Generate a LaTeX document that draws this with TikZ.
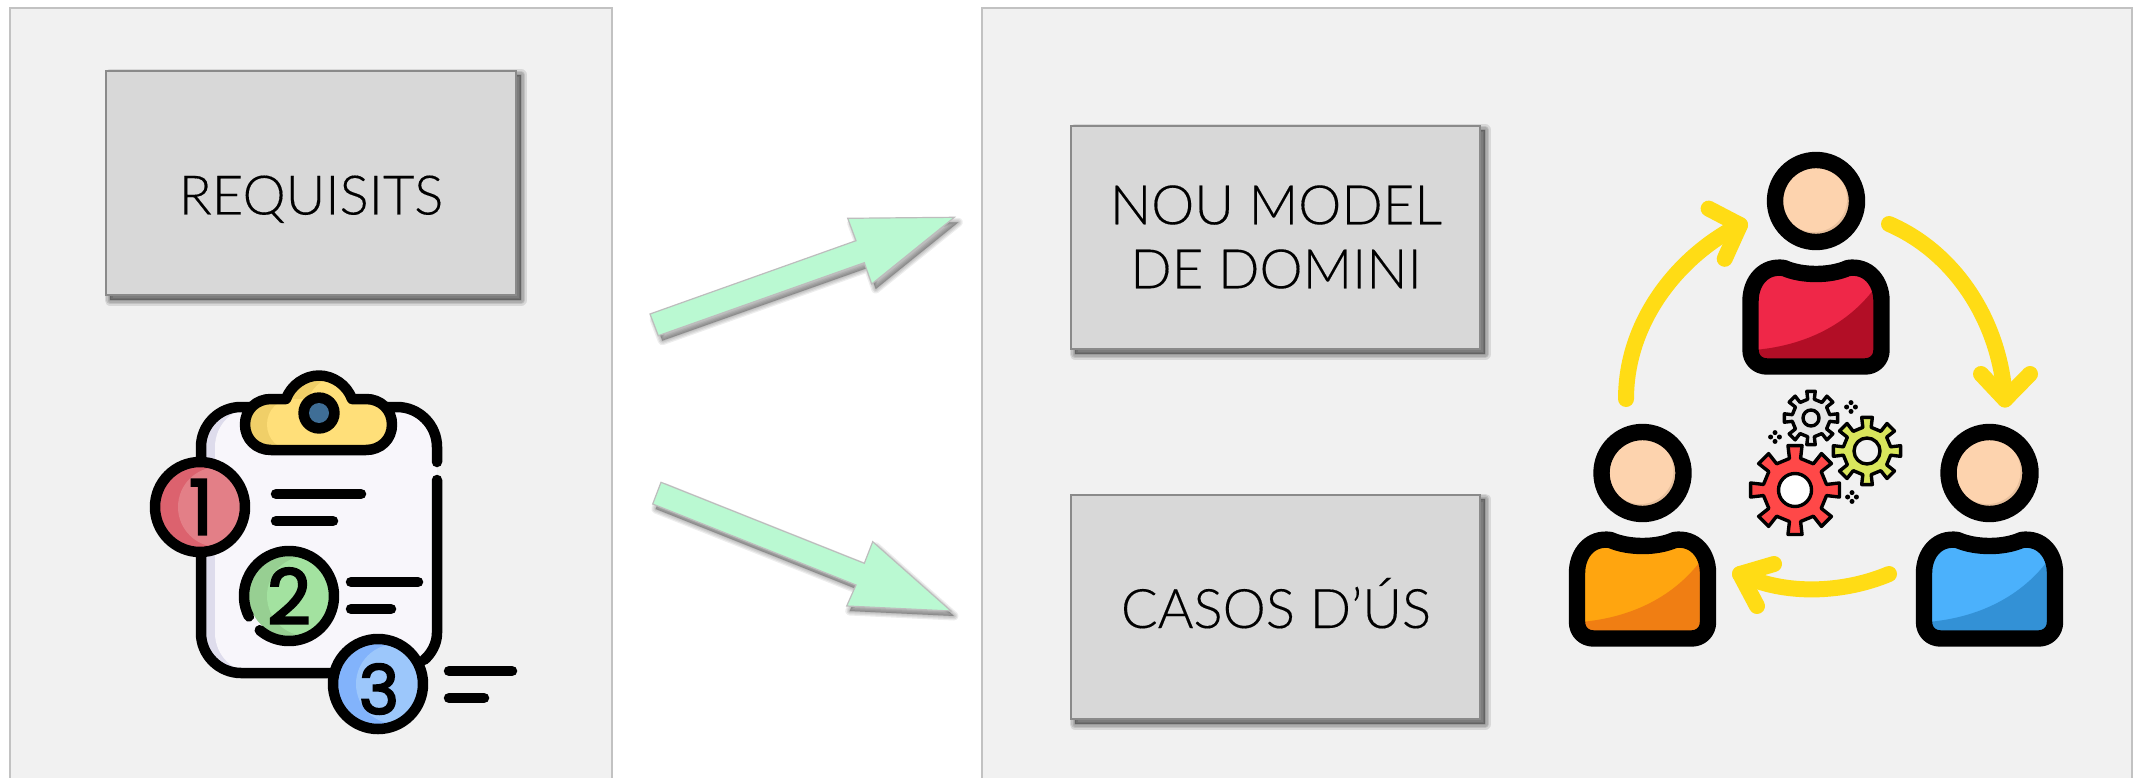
\documentclass[tikz,border=0pt]{standalone}
\usepackage{fontspec}
\setmainfont{Lato}[UprightFont=* Light,FakeBold=.2,AutoFakeBold=0]
\newfontfamily\labelfont{Lato}[UprightFont=* Light,UprightFeatures={FakeBold=.25}]
\newfontfamily\digitfont{Poppins}[FakeBold=3]
\usetikzlibrary{calc}
\definecolor{panelfill}{HTML}{F1F1F1}
\definecolor{panelline}{HTML}{C2C2C2}
\definecolor{boxfill}{HTML}{D8D8D8}
\definecolor{boxline}{HTML}{8A8A8A}
\definecolor{arrowgreen}{HTML}{BAF9D2}
\definecolor{arrowline}{HTML}{BDBDBD}
\definecolor{flowyellow}{HTML}{FFDC15}
\definecolor{skin}{HTML}{FDD3AE}
\definecolor{skindark}{HTML}{E7BF9C}
\tikzset{
  panel/.style={draw=panelline,fill=panelfill,line width=2.6pt},
  boxnode/.style={draw=boxline,fill=boxfill,line width=2pt,rectangle,inner sep=0pt,anchor=north west},
  boxlabel/.style={font=\labelfont\fontsize{54.5}{64}\selectfont,inner sep=0pt,text=black},
  blockarrow/.style={draw=arrowline,fill=arrowgreen,line width=1.2pt,line join=miter},
  flow/.style={draw=flowyellow,line width=16pt,line cap=round,line join=round},
  ink/.style={draw=black,line width=10.5pt,line cap=round,line join=round},
  gearline/.style={draw=black,line width=3.4pt,line join=round},
}
\newcommand{\softrect}[4]{%
  \foreach \w in {11,8,5,2}{\filldraw[black,opacity=.1,line width=\w pt,line join=round] (#1+4,#2+4) rectangle (#3+4,#4+4);}}
\newcommand{\badge}[4]{% x y main shade
  \begin{scope}
    \clip (#1,#2) circle[radius=40];
    \fill[#4] (#1,#2) circle[radius=40];
    \fill[#3] (#1+18,#2) circle[radius=40];
  \end{scope}}
\newcommand{\person}[4]{% x y main dark
  \begin{scope}[shift={(#1,#2)}]
    \def\bodyshape{(-32,67) .. controls (-14,75) and (14,75) .. (32,67)
      .. controls (52,64) and (65.5,80) .. (65.5,100) -- (65.5,149)
      .. controls (65.5,159) and (58,165.5) .. (49,165.5) -- (-49,165.5)
      .. controls (-58,165.5) and (-65.5,159) .. (-65.5,149) -- (-65.5,100)
      .. controls (-65.5,80) and (-52,64) .. (-32,67) -- cycle}
    \fill[#3] \bodyshape;
    \begin{scope}
      \clip \bodyshape;
      \fill[#4] (-70,149.5) .. controls (-15,147) and (30,125) .. (58,88) -- (70,70) -- (70,170) -- (-70,170) -- cycle;
    \end{scope}
    \draw[black,line width=16.4pt,line join=round] \bodyshape;
    \fill[skindark] (0,0) circle[radius=36];
    \fill[skin] (-2,-2) circle[radius=33];
    \draw[black,line width=16.4pt] (0,0) circle[radius=41];
  \end{scope}}
\newcommand{\gearicon}[5]{% x y R bodyradius fill
  \begin{scope}[shift={(#1,#2)}]
    \filldraw[gearline,fill=#5] (-9:#3) \foreach \a in {0,45,...,315}{
      -- (\a-9:#3) -- (\a+9:#3) -- (\a+10:#4) -- (\a+35:#4)} -- cycle;
  \end{scope}}
\newcommand{\gearhub}[4]{% x y radius fill
  \filldraw[gearline,fill=#4] (#1,#2) circle[radius=#3];}
\newcommand{\sparkle}[2]{%
  \foreach \dx/\dy in {4.4/0,-4.4/0,0/4.4,0/-4.4}{\fill[black] (#1+\dx,#2+\dy) circle[radius=2.5];}}
\begin{document}
\begin{tikzpicture}[x=1pt,y=-1pt]
\useasboundingbox (0,0) rectangle (2143,778);
\clip (0,0) rectangle (2143,778);
\fill[white] (0,0) rectangle (2143,778);
% panels
\draw[panel] (10,8) rectangle (612,800);
\draw[panel] (982,8) rectangle (2132,800);
% grey boxes
\softrect{106}{71}{517}{296}
\node[boxnode,minimum width=410pt,minimum height=224pt] (req) at (105,70) {};
\node[boxlabel,anchor=base] (reqlabel) at (311,214.5) {REQUISITS};
\softrect{1071}{126}{1481}{350}
\node[boxnode,minimum width=409pt,minimum height=223pt] (model) at (1070,125) {};
\node[boxlabel,align=center] (modellabel) at (1276,237) {NOU MODEL\\DE DOMINI};
\softrect{1071}{495}{1481}{720}
\node[boxnode,minimum width=409pt,minimum height=224pt] (cases) at (1070,494) {};
\node[boxlabel,anchor=base] (caseslabel) at (1276,628) {CASOS D’ÚS};
% green block arrows
\coordinate (a1) at (650,314); \coordinate (a2) at (856,240.7); \coordinate (a3) at (847.7,218.3);
\coordinate (a4) at (954.3,217.3); \coordinate (a5) at (871.7,284); \coordinate (a6) at (864.3,262.7);
\coordinate (a7) at (658.3,335.7);
\coordinate (b1) at (661,482.3); \coordinate (b2) at (864.3,563.3); \coordinate (b3) at (872.7,541.7);
\coordinate (b4) at (951,611); \coordinate (b5) at (846.7,606); \coordinate (b6) at (856,585);
\coordinate (b7) at (652.7,504);
\foreach \w in {9,6.5,4,1.5}{
  \filldraw[black,opacity=.07,line width=\w pt,line join=round] ($(a1)+(4,5)$)--($(a2)+(4,5)$)--($(a3)+(4,5)$)--($(a4)+(4,5)$)--($(a5)+(4,5)$)--($(a6)+(4,5)$)--($(a7)+(4,5)$)--cycle;
  \filldraw[black,opacity=.07,line width=\w pt,line join=round] ($(b1)+(3,5)$)--($(b2)+(3,5)$)--($(b3)+(3,5)$)--($(b4)+(3,5)$)--($(b5)+(3,5)$)--($(b6)+(3,5)$)--($(b7)+(3,5)$)--cycle;
}
\draw[blockarrow] (a1)--(a2)--(a3)--(a4)--(a5)--(a6)--(a7)--cycle;
\draw[blockarrow] (b1)--(b2)--(b3)--(b4)--(b5)--(b6)--(b7)--cycle;
% clipboard
\definecolor{sheet}{HTML}{F8F6FB}
\definecolor{sheetdark}{HTML}{DEDCEC}
\begin{scope}
  \clip[rounded corners=40pt] (201,407) rectangle (437,673);
  \fill[sheetdark] (195,400) rectangle (445,680);
  \fill[sheet,rounded corners=40pt] (215,407) rectangle (470,673);
\end{scope}
\draw[ink] (437,462) -- (437,447) .. controls (437,425) and (419,407) .. (397,407)
  -- (241,407) .. controls (219,407) and (201,425) .. (201,447)
  -- (201,633) .. controls (201,655) and (219,673) .. (241,673) -- (378,673);
\draw[ink] (437,480) -- (437,633) .. controls (437,644) and (431,654) .. (424,660);
% clip
\definecolor{clipmain}{HTML}{FFDF79}
\definecolor{clipdark}{HTML}{F0CF68}
\def\clipshape{(286,399) .. controls (291,385) and (305,375.5) .. (319,375.5)
  .. controls (333,375.5) and (347,385) .. (352,399) -- (366,399)
  .. controls (381,399) and (392,410) .. (392,424.5)
  .. controls (392,439) and (381,450) .. (366,450) -- (271,450)
  .. controls (256,450) and (245,439) .. (245,424.5)
  .. controls (245,410) and (256,399) .. (271,399) -- cycle}
\begin{scope}
  \clip \clipshape;
  \fill[clipdark] (240,370) rectangle (400,455);
  \begin{scope}[shift={(22,0)}]\fill[clipmain] \clipshape;\end{scope}
\end{scope}
\draw[ink] \clipshape;
\fill[black] (319,413) circle[radius=20.7];
\definecolor{hole}{HTML}{3F6E96}
\fill[hole] (319,413) circle[radius=10];
% numbered badges
\definecolor{onemain}{HTML}{E37F87}\definecolor{onedark}{HTML}{DC626E}
\definecolor{twomain}{HTML}{A3E2A0}\definecolor{twodark}{HTML}{97CF92}
\definecolor{threemain}{HTML}{9CC7FB}\definecolor{threedark}{HTML}{82B3FB}
\badge{200}{507}{onemain}{onedark}
\draw[ink] (200,507) circle[radius=45];
\badge{289}{596}{twomain}{twodark}
\draw[ink] (289,596) ++(153:45) arc[start angle=153,end angle=490.5,radius=45];
\badge{378}{684}{threemain}{threedark}
\draw[ink] (378,684) circle[radius=45];
\node[inner sep=0pt,font=\digitfont\fontsize{76}{76}\selectfont] (one) at (201,507) {1};
\node[inner sep=0pt,font=\digitfont\fontsize{76}{76}\selectfont] (two) at (289,596) {2};
\node[inner sep=0pt,font=\digitfont\fontsize{68}{68}\selectfont] (three) at (379,689) {3};
% list lines
\draw[ink] (276,494) -- (361,494);
\draw[ink] (276,521) -- (333,521);
\draw[ink] (351,582) -- (418,582);
\draw[ink] (351,609) -- (391,609);
\draw[ink] (449,671) -- (512,671);
\draw[ink] (449,698) -- (484,698);
% people
\definecolor{redmain}{HTML}{EF2748}\definecolor{reddark}{HTML}{B20E26}
\definecolor{orangemain}{HTML}{FFA50F}\definecolor{orangedark}{HTML}{F07E13}
\definecolor{bluemain}{HTML}{4BB1FC}\definecolor{bluedark}{HTML}{3391D6}
\person{1816}{201}{redmain}{reddark}
\person{1642.5}{473}{orangemain}{orangedark}
\person{1989.5}{473}{bluemain}{bluedark}
% yellow arrows
\coordinate (y1s) at (1626,399); \coordinate (y1e) at (1740,225);
\coordinate (y2s) at (1889,224); \coordinate (y2e) at (2005,399.5);
\coordinate (y3s) at (1889,574); \coordinate (y3e) at (1740,574);
\draw[flow] (y1s) .. controls (1626,320) and (1680,255) .. (y1e);
\draw[flow] (1708.6,208.6) -- (y1e) -- (1724.7,258.8);
\draw[flow] (y2s) .. controls (1954,252) and (2000,320) .. (y2e);
\draw[flow] (1981,374) -- (y2e) -- (2030,374);
\draw[flow] (y3s) .. controls (1844,593) and (1785,596) .. (y3e);
\draw[flow] (1774,564) -- (y3e) -- (1757,606);
% gears
\definecolor{geargrey}{HTML}{E6E6E6}
\definecolor{gearlime}{HTML}{D9E65C}
\definecolor{gearred}{HTML}{FF4848}
\gearicon{1811}{418}{27}{19}{geargrey}
\gearhub{1811}{418}{8}{geargrey}
\gearicon{1867}{451}{34}{24}{gearlime}
\gearhub{1867}{451}{13}{panelfill}
\gearicon{1795}{490}{45}{32}{gearred}
\gearhub{1795}{490}{16.5}{white}
\sparkle{1851}{407}
\sparkle{1775}{437}
\sparkle{1852}{497}
\end{tikzpicture}
\end{document}
